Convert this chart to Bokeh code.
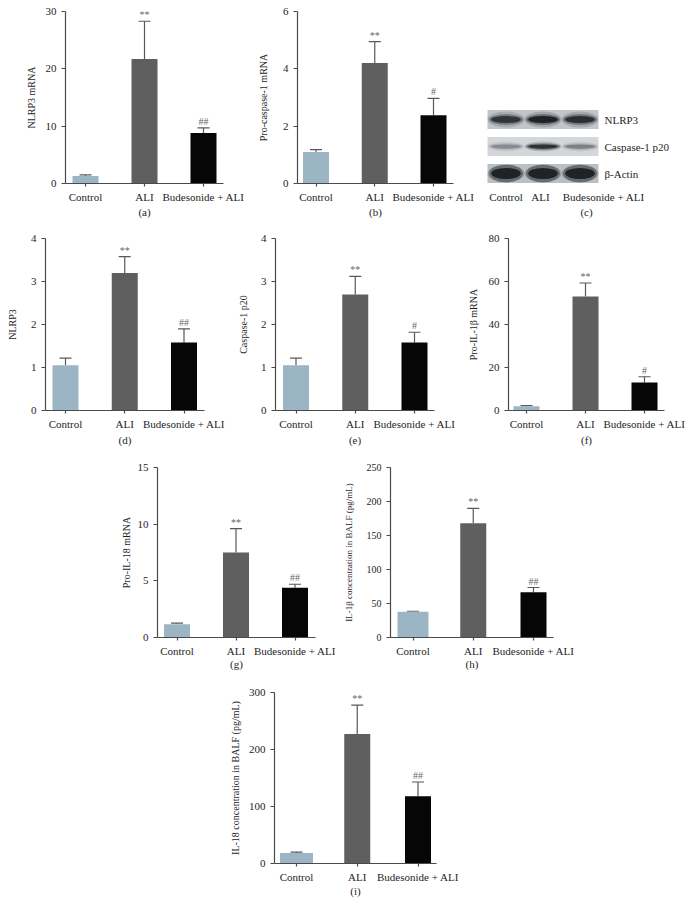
from bokeh.plotting import figure
from bokeh.layouts import column, row
from bokeh.models import Range1d, FixedTicker, ColumnDataSource, Spacer
from bokeh.core.properties import value
from bokeh.embed import file_html
from bokeh.resources import INLINE

# ---------------- data ----------------
groups = ["Control", "ALI", "Budesonide + ALI"]

a_mean = [1.3, 21.7, 8.8]
a_upper = [1.5, 28.3, 9.7]
a_sig = ["", "**", "##"]

b_mean = [1.1, 4.2, 2.38]
b_upper = [1.18, 4.95, 2.97]
b_sig = ["", "**", "#"]

d_mean = [1.05, 3.2, 1.58]
d_upper = [1.22, 3.58, 1.9]
d_sig = ["", "**", "##"]

e_mean = [1.05, 2.7, 1.58]
e_upper = [1.22, 3.12, 1.82]
e_sig = ["", "**", "#"]

f_mean = [2.0, 53.0, 13.0]
f_upper = [2.3, 59.3, 15.7]
f_sig = ["", "**", "#"]

g_mean = [1.18, 7.5, 4.4]
g_upper = [1.26, 9.6, 4.7]
g_sig = ["", "**", "##"]

h_mean = [37.8, 168.0, 66.5]
h_upper = [38.6, 190.0, 73.5]
h_sig = ["", "**", "##"]

i_mean = [18.5, 227.0, 118.0]
i_upper = [20.0, 278.0, 143.0]
i_sig = ["", "**", "##"]

a_ticks = [0, 10, 20, 30]
b_ticks = [0, 2, 4, 6]
d_ticks = [0, 1, 2, 3, 4]
e_ticks = [0, 1, 2, 3, 4]
f_ticks = [0, 20, 40, 60, 80]
g_ticks = [0, 5, 10, 15]
h_ticks = [0, 50, 100, 150, 200, 250]
i_ticks = [0, 100, 200, 300]

blot_rows = ["NLRP3", "Caspase-1 p20", "β-Actin"]
blot_lanes = ["Control", "ALI", "Budesonide + ALI"]
nlrp3_band = [0.80, 0.97, 0.85]
casp_band = [0.30, 0.85, 0.35]
actin_band = [0.97, 0.97, 0.97]

# ---------------- style ----------------
FONT = "Liberation Serif"
BAR_COLORS = ["#9bb5c4", "#5f5f5f", "#060606"]
AXIS_COLOR = "#4a4a4a"
ERR_COLOR = "#585858"


def style_x_axis(xa):
    xa.major_tick_in = 0
    xa.minor_tick_in = 0
    xa.minor_tick_out = 0
    xa.major_tick_out = 3
    xa.major_label_standoff = 4
    xa.major_label_text_font = FONT
    xa.major_label_text_color = "#1e1e1e"
    xa.major_label_text_font_size = "11px"
    xa.axis_label_text_font = FONT
    xa.axis_label_text_font_style = "normal"
    xa.axis_label_text_color = "#1e1e1e"
    xa.axis_label_text_font_size = "11px"


def bar_panel(cell, frame, ylabel, ticks, means, uppers, sigs, letter,
              bar_px=(26, 26, 26), title_standoff=8, letter_standoff=3,
              ytick_size="11px", ytitle_size="10px"):
    cx0, cy0, cx1, cy1 = cell
    ax, ft, fr, fb, c0, c2 = frame
    s = (c2 - c0) / 2.0
    xs = -(c0 - ax) / s
    xe = xs + (fr - ax) / s
    p = figure(width=cx1 - cx0, height=cy1 - cy0,
               x_range=Range1d(xs, xe), y_range=Range1d(0, ticks[-1]),
               output_backend="svg", toolbar_location=None,
               min_border_left=ax - cx0, min_border_right=cx1 - fr,
               min_border_top=ft - cy0, min_border_bottom=cy1 - fb)
    p.outline_line_color = None
    p.xgrid.visible = False
    p.ygrid.visible = False
    p.background_fill_color = None
    p.border_fill_color = None

    xpos = list(range(len(means)))
    cap = 6.0 / s
    src = ColumnDataSource(dict(
        x=xpos, top=means, upper=uppers, sig=sigs,
        w=[bp / s for bp in bar_px], color=BAR_COLORS,
        xl=[x - cap for x in xpos], xr=[x + cap for x in xpos]))
    p.segment(x0="x", y0="top", x1="x", y1="upper", source=src,
              line_color=ERR_COLOR, line_width=1.2)
    p.segment(x0="xl", y0="upper", x1="xr", y1="upper", source=src,
              line_color=ERR_COLOR, line_width=1.2)
    p.vbar(x="x", top="top", width="w", bottom=0, source=src,
           fill_color="color", line_color=None)
    p.text(x="x", y="upper", text="sig", source=src,
           text_font=value(FONT), text_font_size="10px", text_color="#666666",
           text_align="center", text_baseline="bottom", y_offset=-1)

    xa = p.xaxis[0]
    xa.ticker = FixedTicker(ticks=xpos)
    xa.major_label_overrides = {i: g for i, g in enumerate(groups)}
    xa.axis_label = letter
    xa.axis_label_standoff = letter_standoff
    style_x_axis(xa)
    ya = p.yaxis[0]
    ya.ticker = FixedTicker(ticks=ticks)
    ya.axis_label = ylabel
    ya.axis_label_standoff = title_standoff
    ya.major_tick_in = 0
    ya.minor_tick_in = 0
    ya.minor_tick_out = 0
    ya.major_tick_out = 4
    ya.major_label_standoff = 5
    ya.major_label_text_font = FONT
    ya.major_label_text_color = "#1e1e1e"
    ya.major_label_text_font_size = ytick_size
    ya.axis_label_text_font = FONT
    ya.axis_label_text_font_style = "normal"
    ya.axis_label_text_color = "#1e1e1e"
    ya.axis_label_text_font_size = ytitle_size
    for axis in (xa, ya):
        axis.axis_line_color = AXIS_COLOR
        axis.axis_line_width = 1.2
        axis.major_tick_line_color = AXIS_COLOR
        axis.major_tick_line_width = 1.2
    return p


pa = bar_panel((0, 0, 250, 226), (65, 11, 223, 183, 85, 203),
               "NLRP3 mRNA", a_ticks, a_mean, a_upper, a_sig, "(a)",
               title_standoff=6, letter_standoff=0)
pb = bar_panel((250, 0, 484, 226), (297, 11, 453, 183, 315.5, 433),
               "Pro-caspase-1 mRNA", b_ticks, b_mean, b_upper, b_sig, "(b)",
               title_standoff=11, letter_standoff=0)
pd = bar_panel((0, 226, 232, 452), (45, 238, 204, 410, 65, 183.5),
               "NLRP3", d_ticks, d_mean, d_upper, d_sig, "(d)",
               title_standoff=10, letter_standoff=1)
pe = bar_panel((232, 226, 462, 452), (275, 238, 434, 411, 295.5, 414),
               "Caspase-1 p20", e_ticks, e_mean, e_upper, e_sig, "(e)",
               title_standoff=9, letter_standoff=1)
pf = bar_panel((462, 226, 688, 452), (508, 238, 664, 410, 526, 644),
               "Pro-IL-1β mRNA", f_ticks, f_mean, f_upper, f_sig, "(f)",
               title_standoff=7, letter_standoff=1)
pg = bar_panel((110, 452, 340, 678), (157, 465, 315, 638, 176.5, 294.5),
               "Pro-IL-18 mRNA", g_ticks, g_mean, g_upper, g_sig, "(g)",
               title_standoff=3, letter_standoff=-2)
ph = bar_panel((340, 452, 578, 678), (390, 467, 553, 637, 412.5, 533),
               "IL-1β concentration in BALF (pg/mL)", h_ticks, h_mean, h_upper, h_sig, "(h)",
               bar_px=(31, 26, 26), title_standoff=10, letter_standoff=-2,
               ytick_size="10px", ytitle_size="9px")
pi = bar_panel((200, 678, 464, 912), (274, 692, 436, 863, 296, 417.5),
               "IL-18 concentration in BALF (pg/mL)", i_ticks, i_mean, i_upper, i_sig, "(i)",
               bar_px=(33, 26, 26), title_standoff=5, letter_standoff=-1)

# ---------------- western blot panel (c) ----------------
# frame shares the top/bottom borders of panels (a) and (b) in the same row
cx0, cx1 = 484, 688
fr_top, fr_bot, cell_h = 11, 183, 226
LANE_PX, ROW_PX = 37.0, 27.0
lane0_px, row0_px = 505.5, 119.0
x_start = -(lane0_px - cx0) / LANE_PX
y_top = (row0_px - fr_top) / ROW_PX          # rows are drawn at y = -index
pc = figure(width=cx1 - cx0, height=cell_h, title_location=None,
            x_range=Range1d(x_start, x_start + (cx1 - cx0) / LANE_PX),
            y_range=Range1d(y_top - (fr_bot - fr_top) / ROW_PX, y_top),
            y_axis_location=None,
            output_backend="svg", toolbar_location=None,
            min_border_left=0, min_border_right=0,
            min_border_top=fr_top, min_border_bottom=cell_h - fr_bot)
pc.grid.visible = False
pc.outline_line_color = None
pc.background_fill_color = None
pc.border_fill_color = None

# lane captions as the x-axis labels (positions of the captions under the lanes)
lane_label_pos = [0.0, 0.93, 2.64]
cxa = pc.xaxis[0]
cxa.ticker = FixedTicker(ticks=lane_label_pos)
cxa.major_label_overrides = {pos: lab for pos, lab in zip(lane_label_pos, blot_lanes)}
cxa.axis_label = "(c)"
cxa.axis_label_standoff = 0
style_x_axis(cxa)
cxa.axis_line_color = None
cxa.major_tick_line_color = None

strip_bg = ["#c2c6ca", "#d3d7da", "#babfc3"]
band_h_px = [8.0, 5.0, 13.0]
row_y = [-r for r in range(len(blot_rows))]
pc.rect(x=[1, 1, 1], y=row_y, width=3.0, height=19.0 / ROW_PX,
        fill_color=strip_bg, line_color=None)
bands = [nlrp3_band, casp_band, actin_band]
bx, by, bh, ba = [], [], [], []
for r, inten in enumerate(bands):
    for lane, v in enumerate(inten):
        bx.append(lane)
        by.append(-r)
        ba.append(v)
        bh.append(band_h_px[r] / ROW_PX)
band_src = ColumnDataSource(dict(
    x=bx, y=by, a=ba,
    a1=[v * 0.22 for v in ba], h1=[min(h * 2.0, 18.0 / ROW_PX) for h in bh],
    a2=[v * 0.45 for v in ba], h2=[h * 1.35 for h in bh],
    a3=[v * 0.85 for v in ba], h3=[h * 0.85 for h in bh]))
pc.ellipse(x="x", y="y", width=1.0, height="h1", source=band_src,
           fill_color="#2e3338", fill_alpha="a1", line_color=None)
pc.ellipse(x="x", y="y", width=0.92, height="h2", source=band_src,
           fill_color="#22262a", fill_alpha="a2", line_color=None)
pc.ellipse(x="x", y="y", width=0.8, height="h3", source=band_src,
           fill_color="#101316", fill_alpha="a3", line_color=None)

pc.text(x=[(604 - lane0_px) / LANE_PX] * 3, y=row_y, text=blot_rows,
        text_font=value(FONT), text_font_size="11px", text_color="#1e1e1e",
        text_align="left", text_baseline="middle")

layout = column(
    row(pa, pb, pc),
    row(pd, pe, pf),
    row(Spacer(width=110, height=226), pg, ph),
    row(Spacer(width=200, height=234), pi),
)

open("out.html", "w").write(file_html(layout, INLINE))
